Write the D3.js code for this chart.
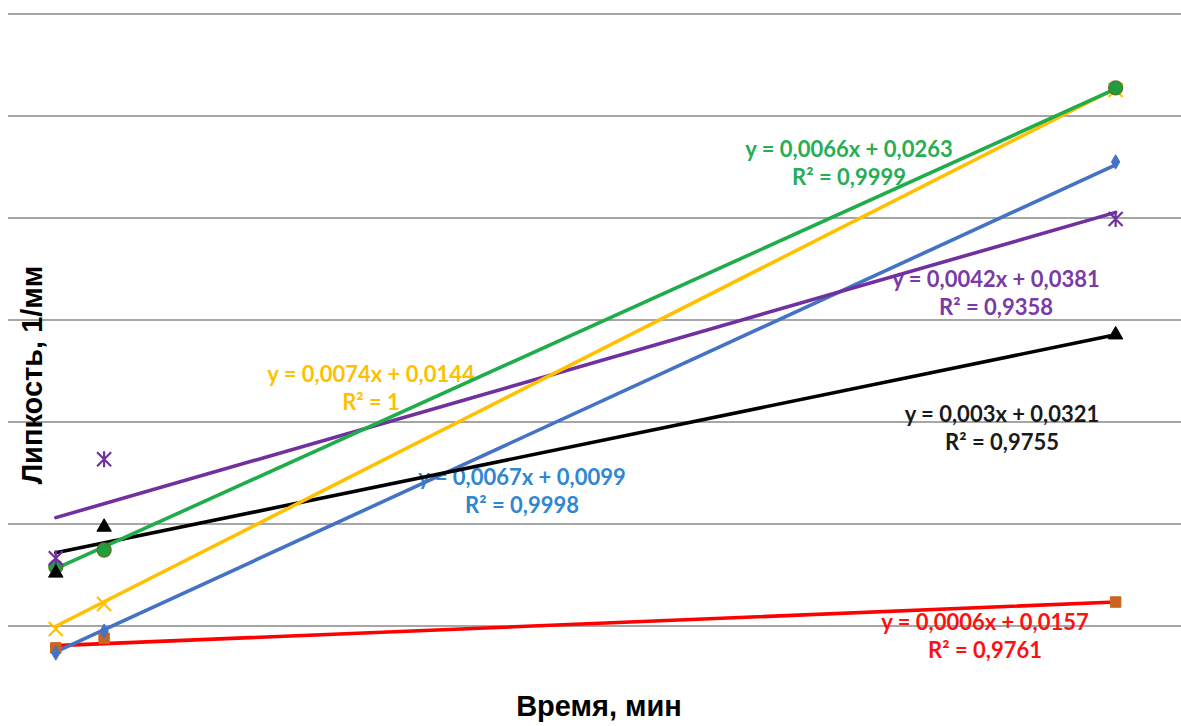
<!DOCTYPE html>
<html>
<head>
<meta charset="utf-8">
<script src="https://cdn.jsdelivr.net/npm/d3@7"></script>
<style>
  html, body { margin: 0; padding: 0; background: #fff; }
  svg { display: block; }
</style>
</head>
<body>
<script>
// Время измерения, мин
const times = [0.75, 1.4, 15];

// Липкость, 1/мм — измеренные значения по сериям
const seriesNames = ["red", "blue", "yellow", "green", "purple", "black"];
const valuesRed    = [0.0157, 0.0176, 0.0247];
const valuesBlue   = [0.0147, 0.0190, 0.1110];
const valuesYellow = [0.0194, 0.0243, 0.1251];
const valuesGreen  = [0.0316, 0.0349, 0.1255];
const valuesPurple = [0.0333, 0.0527, 0.0998];
const valuesBlack  = [0.0304, 0.0394, 0.0771];

// Коэффициенты линейных трендов y = k·x + b и R²
const slopes     = [0.0006, 0.0067, 0.0074, 0.0066, 0.0042, 0.003];
const intercepts = [0.0157, 0.0099, 0.0144, 0.0263, 0.0381, 0.0321];
const r2Labels   = ["0,9761", "0,9998", "1", "0,9999", "0,9358", "0,9755"];

// Горизонтальные линии сетки
const gridValues = [0.02, 0.04, 0.06, 0.08, 0.10, 0.12, 0.14];

const W = 1181, H = 726;
const svg = d3.select("body").append("svg")
  .attr("width", W).attr("height", H)
  .style("background", "#fff");

const x = d3.scaleLinear().domain([0, 16]).range([0, 1190]);
const y = d3.scaleLinear().domain([0, 0.14]).range([728, 14]);

const style = {
  red:    { line: "#ff0000", text: "#ff1010", marker: "#c9651f", shape: "square" },
  blue:   { line: "#4472c4", text: "#2f87d2", marker: "#4472c4", shape: "diamond" },
  yellow: { line: "#ffc000", text: "#ffc000", marker: "#ffc000", shape: "cross" },
  green:  { line: "#1fad4b", text: "#27ad55", marker: "#1f9e40", shape: "circle" },
  purple: { line: "#7030a0", text: "#7a3aa8", marker: "#7030a0", shape: "star" },
  black:  { line: "#000000", text: "#1a1a1a", marker: "#000000", shape: "triangle" }
};

// Места подписей уравнений (центр, базовая линия первой строки)
const labelPos = {
  red:    [985, 630],
  blue:   [522, 485],
  yellow: [371, 382],
  green:  [849, 157],
  purple: [996, 287],
  black:  [1002, 422]
};

const seriesValues = [valuesRed, valuesBlue, valuesYellow, valuesGreen, valuesPurple, valuesBlack];
const series = seriesNames.map((name, i) => ({
  name,
  values: seriesValues[i],
  k: slopes[i],
  b: intercepts[i],
  r2: r2Labels[i]
}));

// Сетка
svg.append("g").selectAll("line").data(gridValues).join("line")
  .attr("x1", 8).attr("x2", W)
  .attr("y1", d => y(d)).attr("y2", d => y(d))
  .attr("stroke", "#a6a6a6").attr("stroke-width", 2);

// Подписи уравнений трендов
const fmt = v => String(v).replace(".", ",");
const labels = svg.append("g")
  .attr("font-family", "Lato, sans-serif")
  .attr("font-size", 22)
  .attr("font-weight", "bold")
  .attr("text-anchor", "middle");
series.forEach(s => {
  const [cx, by] = labelPos[s.name];
  const c = style[s.name].text;
  labels.append("text").attr("x", cx).attr("y", by).attr("fill", c)
    .text(`y = ${fmt(s.k)}x + ${fmt(s.b)}`);
  labels.append("text").attr("x", cx).attr("y", by + 28).attr("fill", c)
    .text(`R² = ${s.r2}`);
});

// Линии трендов
const trend = d3.line().x(d => x(d[0])).y(d => y(d[1]));
const xMin = d3.min(times), xMax = d3.max(times);
const drawOrder = ["red", "blue", "black", "purple", "yellow", "green"];
drawOrder.forEach(n => {
  const s = series.find(t => t.name === n);
  svg.append("path")
    .datum([[xMin, s.b + s.k * xMin], [xMax, s.b + s.k * xMax]])
    .attr("d", trend)
    .attr("fill", "none")
    .attr("stroke", style[n].line)
    .attr("stroke-width", 3.6)
    .attr("stroke-linecap", "round");
});

// Маркеры точек
const symbolFor = {
  square:   d3.symbol().type(d3.symbolSquare).size(110),
  diamond:  d3.symbol().type(d3.symbolDiamond).size(60),
  circle:   d3.symbol().type(d3.symbolCircle).size(150),
  triangle: d3.symbol().type(d3.symbolTriangle).size(90)
};
const markers = svg.append("g");
series.forEach(s => {
  const st = style[s.name];
  s.values.forEach((v, i) => {
    const px = x(times[i]), py = y(v);
    const g = markers.append("g").attr("transform", `translate(${px},${py})`);
    if (st.shape === "cross" || st.shape === "star") {
      const r = 7;
      g.append("path")
        .attr("d", `M${-r},${-r}L${r},${r}M${-r},${r}L${r},${-r}` +
          (st.shape === "star" ? `M0,${-r - 1}L0,${r + 1}` : ""))
        .attr("stroke", st.marker).attr("stroke-width", 2.2).attr("fill", "none");
    } else {
      g.append("path").attr("d", symbolFor[st.shape]())
        .attr("fill", st.marker)
        .attr("stroke", st.shape === "circle" ? "#557a2a" : st.marker)
        .attr("stroke-width", st.shape === "circle" ? 1.5 : 1);
    }
  });
});

// Подписи осей
svg.append("text")
  .attr("x", 599).attr("y", 716)
  .attr("text-anchor", "middle")
  .attr("font-family", "'Liberation Sans', Arial, sans-serif")
  .attr("font-weight", "bold").attr("font-size", 29)
  .attr("fill", "#000")
  .text("Время, мин");

svg.append("text")
  .attr("transform", "translate(42,375) rotate(-90)")
  .attr("text-anchor", "middle")
  .attr("font-family", "'Liberation Sans', Arial, sans-serif")
  .attr("font-weight", "bold").attr("font-size", 29)
  .attr("fill", "#000")
  .text("Липкость, 1/мм");
</script>
</body>
</html>
